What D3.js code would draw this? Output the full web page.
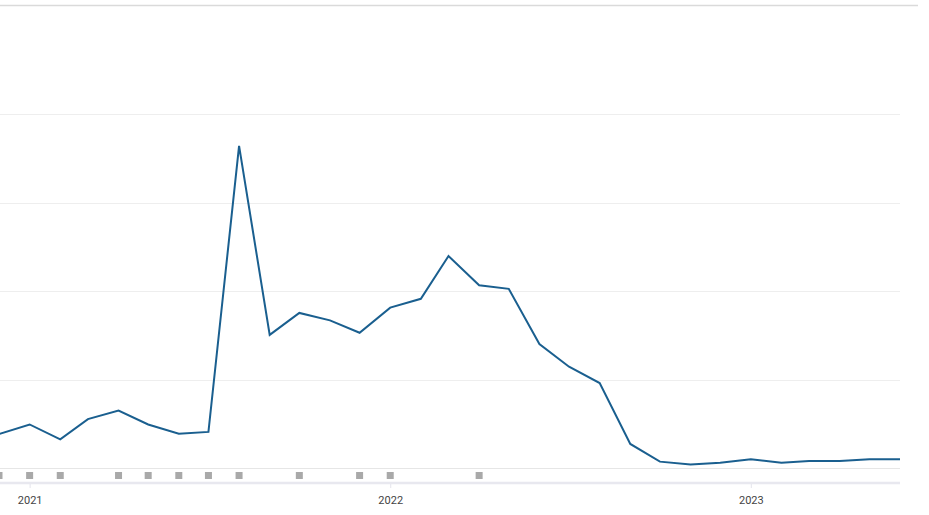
<!DOCTYPE html>
<html>
<head>
<meta charset="utf-8">
<script src="https://cdn.jsdelivr.net/npm/d3@7"></script>
<style>
  html, body { margin: 0; padding: 0; background: #fff; }
  svg { display: block; }
</style>
</head>
<body>
<svg id="chart" width="929" height="515"></svg>
<script>
// Monthly values, Dec 2020 .. Jun 2023 (relative scale, gridline step = 25)
const months = [
  "2020-12","2021-01","2021-02","2021-03","2021-04","2021-05","2021-06","2021-07",
  "2021-08","2021-09","2021-10","2021-11","2021-12","2022-01","2022-02","2022-03",
  "2022-04","2022-05","2022-06","2022-07","2022-08","2022-09","2022-10","2022-11",
  "2022-12","2023-01","2023-02","2023-03","2023-04","2023-05","2023-06"
];
const values = [
  9.6, 12.3, 8.1, 13.8, 16.2, 12.3, 9.7, 10.2,
  91.0, 37.6, 43.8, 41.7, 38.2, 45.3, 47.8, 59.9,
  51.6, 50.6, 35.0, 28.6, 24.0, 6.8, 1.8, 1.0,
  1.5, 2.5, 1.5, 2.0, 2.0, 2.5, 2.5
];
// Months carrying an annotation marker
const markerMonths = [
  "2020-12","2021-01","2021-02","2021-04","2021-05","2021-06","2021-07",
  "2021-08","2021-10","2021-12","2022-01","2022-04"
];
const yTicks = [0, 25, 50, 75, 100];
const xTickLabels = ["2021", "2022", "2023"];

const parse = d3.timeParse("%Y-%m");
const data = months.map((m, i) => ({ date: parse(m), value: values[i] }));

const svg = d3.select("#chart");

const x = d3.scaleTime()
  .domain([parse("2020-12"), parse("2023-06")])
  .range([-1, 900]);
const y = d3.scaleLinear()
  .domain([0, 100])
  .range([468, 114]);

// top container border
svg.append("line")
  .attr("x1", 0).attr("x2", 918)
  .attr("y1", 5.5).attr("y2", 5.5)
  .attr("stroke", "#dadada").attr("stroke-width", 1.5);

// gridlines
svg.append("g")
  .selectAll("line")
  .data(yTicks)
  .join("line")
  .attr("x1", 0).attr("x2", 900)
  .attr("y1", d => Math.round(y(d)) + 0.5)
  .attr("y2", d => Math.round(y(d)) + 0.5)
  .attr("stroke", d => d === 0 ? "#e6e6e6" : "#eeeeee")
  .attr("stroke-width", 1);

// x axis line
svg.append("line")
  .attr("x1", 0).attr("x2", 900)
  .attr("y1", 483).attr("y2", 483)
  .attr("stroke", "#e8e8ef").attr("stroke-width", 2.5);

// x axis ticks & labels
const xAxis = d3.axisBottom(x)
  .tickValues(xTickLabels.map(t => d3.timeParse("%Y")(t)))
  .tickFormat(d3.timeFormat("%Y"))
  .tickSize(4)
  .tickPadding(8);
const gx = svg.append("g")
  .attr("transform", "translate(0,484)")
  .call(xAxis);
gx.select(".domain").remove();
gx.selectAll(".tick line").attr("stroke", "#e4e4ec");
gx.selectAll(".tick text")
  .attr("fill", "#444")
  .attr("font-family", "Roboto, Arial, sans-serif")
  .attr("font-size", 11);

// annotation markers
svg.append("g")
  .selectAll("rect")
  .data(markerMonths.map(parse))
  .join("rect")
  .attr("x", d => x(d) - 3.5)
  .attr("y", 472)
  .attr("width", 7)
  .attr("height", 7)
  .attr("fill", "#a9a9a9");

// line
const line = d3.line()
  .x(d => x(d.date))
  .y(d => y(d.value));
svg.append("path")
  .datum(data)
  .attr("d", line)
  .attr("fill", "none")
  .attr("stroke", "#1a5f8f")
  .attr("stroke-width", 2)
  .attr("stroke-linejoin", "miter");
</script>
</body>
</html>
